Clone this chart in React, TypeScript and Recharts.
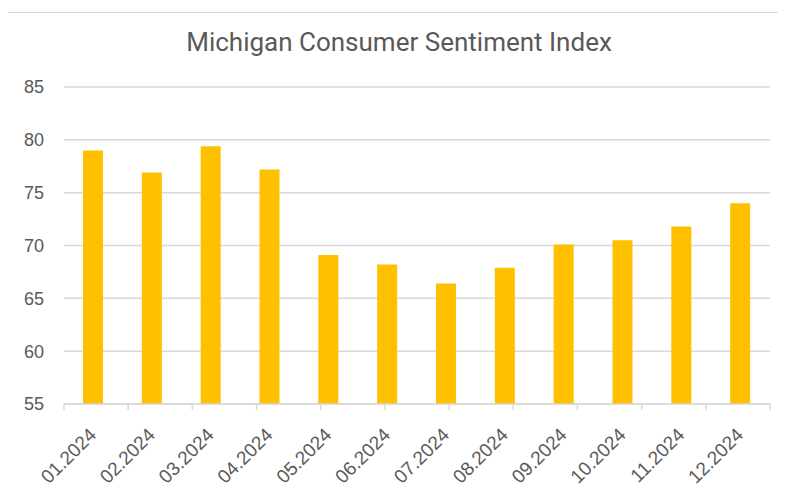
import { BarChart, Bar, XAxis, YAxis, CartesianGrid } from "recharts";

const months = [
  "01.2024", "02.2024", "03.2024", "04.2024", "05.2024", "06.2024",
  "07.2024", "08.2024", "09.2024", "10.2024", "11.2024", "12.2024",
];
const sentiment = [79.0, 76.9, 79.4, 77.2, 69.1, 68.2, 66.4, 67.9, 70.1, 70.5, 71.8, 74.0];
const yTicks = [55, 60, 65, 70, 75, 80, 85];
// boundaries between categories, for Excel-style tick marks
const edgeTicks = [0, 1, 2, 3, 4, 5, 6, 7, 8, 9, 10, 11, 12];

const data = months.map((month, i) => ({ month, value: sentiment[i] }));

const GRAY = "#595959";
const GRID = "#d9d9d9";

function MonthTick({ x, y, payload }: { x?: number; y?: number; payload?: { value: string } }) {
  const tx = (x ?? 0) + 4;
  const ty = (y ?? 0) + 16;
  return (
    <text
      x={tx}
      y={ty}
      transform={`rotate(-45, ${tx}, ${ty})`}
      textAnchor="end"
      fill={GRAY}
      fontSize={19}
      fontFamily="Liberation Sans, Arial, sans-serif"
    >
      {payload?.value}
    </text>
  );
}

export default function App() {
  return (
    <div
      style={{
        position: "relative",
        width: 772,
        height: 482,
        marginLeft: -1,
        marginTop: 4,
        borderLeft: `1.5px solid ${GRID}`,
        borderTop: `1.5px solid ${GRID}`,
        background: "#fff",
      }}
    >
      <div
        style={{
          position: "absolute",
          left: 10,
          right: 0,
          top: 14,
          textAlign: "center",
          fontFamily: "Roboto, sans-serif",
          fontSize: 26,
          color: GRAY,
          lineHeight: 1.2,
        }}
      >
        Michigan Consumer Sentiment Index
      </div>
      <BarChart
        width={772}
        height={482}
        data={data}
        margin={{ top: 74, right: 10, left: 0, bottom: 5 }}
        barCategoryGap={0}
      >
        <CartesianGrid vertical={false} stroke={GRID} strokeWidth={1.5} xAxisId="b" />
        <XAxis
          xAxisId="a"
          type="number"
          domain={[0, 12]}
          ticks={edgeTicks}
          tickFormatter={() => ""}
          stroke={GRID}
          strokeWidth={1.5}
          tickSize={6}
          height={8}
          allowDataOverflow
        />
        <XAxis
          xAxisId="b"
          dataKey="month"
          axisLine={false}
          tickLine={false}
          interval={0}
          height={78}
          tick={<MonthTick />}
        />
        <YAxis
          domain={[55, 85]}
          ticks={yTicks}
          axisLine={false}
          tickLine={false}
          width={56}
          tickMargin={14}
          tick={{ fill: GRAY, fontSize: 18, fontFamily: "Liberation Sans, Arial, sans-serif" }}
        />
        <Bar
          xAxisId="b"
          dataKey="value"
          fill="#FFC000"
          barSize={20}
          isAnimationActive={false}
        />
      </BarChart>
    </div>
  );
}
